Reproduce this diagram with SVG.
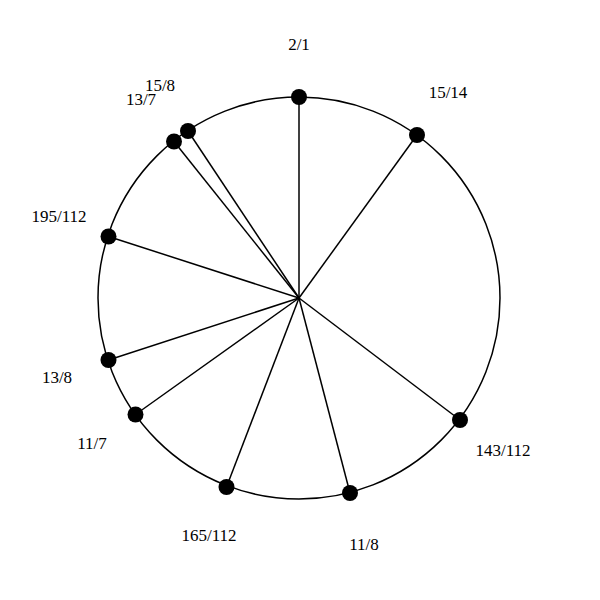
<svg xmlns="http://www.w3.org/2000/svg" width="600" height="600" viewBox="0 0 600 600">
<style>
.ring{fill:none;stroke:#000;stroke-width:1.5}
.spoke{stroke:#000;stroke-width:1.5}
.dot{fill:#000}
.lbl{font-family:"Liberation Serif","Times New Roman",serif;font-size:17px;fill:#000;text-anchor:middle}
</style>
<rect width="600" height="600" fill="#fff"/>
<circle class="ring" cx="299" cy="298" r="201"/>
<g id="connectors">
<line class="spoke" x1="299" y1="298" x2="299" y2="97"/>
<line class="spoke" x1="299" y1="298" x2="417" y2="135"/>
<line class="spoke" x1="299" y1="298" x2="460" y2="420"/>
<line class="spoke" x1="299" y1="298" x2="350" y2="493"/>
<line class="spoke" x1="299" y1="298" x2="226.5" y2="487"/>
<line class="spoke" x1="299" y1="298" x2="135.5" y2="414.5"/>
<line class="spoke" x1="299" y1="298" x2="108.5" y2="360"/>
<line class="spoke" x1="299" y1="298" x2="108.5" y2="236.5"/>
<line class="spoke" x1="299" y1="298" x2="174" y2="141.5"/>
<line class="spoke" x1="299" y1="298" x2="188" y2="131"/>
</g>
<g id="n-2-1"><circle class="dot" cx="299" cy="97" r="8"/><text class="lbl" x="299" y="50">2/1</text></g>
<g id="n-15-14"><circle class="dot" cx="417" cy="135" r="8"/><text class="lbl" x="448" y="98">15/14</text></g>
<g id="n-143-112"><circle class="dot" cx="460" cy="420" r="8"/><text class="lbl" x="503" y="456">143/112</text></g>
<g id="n-11-8"><circle class="dot" cx="350" cy="493" r="8"/><text class="lbl" x="364" y="550">11/8</text></g>
<g id="n-165-112"><circle class="dot" cx="226.5" cy="487" r="8"/><text class="lbl" x="209" y="541">165/112</text></g>
<g id="n-11-7"><circle class="dot" cx="135.5" cy="414.5" r="8"/><text class="lbl" x="92" y="449">11/7</text></g>
<g id="n-13-8"><circle class="dot" cx="108.5" cy="360" r="8"/><text class="lbl" x="57" y="383">13/8</text></g>
<g id="n-195-112"><circle class="dot" cx="108.5" cy="236.5" r="8"/><text class="lbl" x="59" y="222">195/112</text></g>
<g id="n-13-7"><circle class="dot" cx="174" cy="141.5" r="8"/><text class="lbl" x="141" y="105">13/7</text></g>
<g id="n-15-8"><circle class="dot" cx="188" cy="131" r="8"/><text class="lbl" x="160" y="91">15/8</text></g>
</svg>
